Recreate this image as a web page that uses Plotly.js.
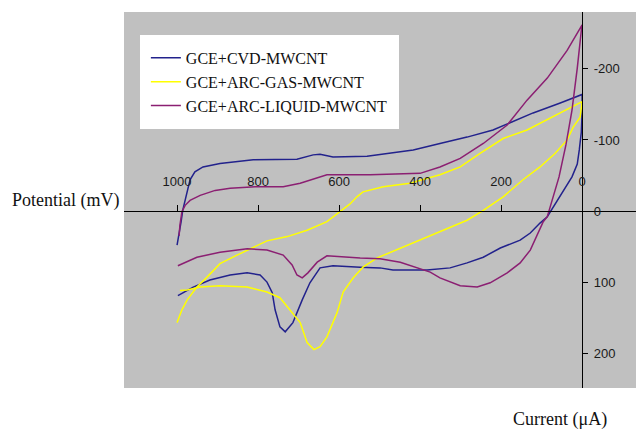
<!DOCTYPE html>
<html>
<head>
<meta charset="utf-8">
<script src="https://cdn.plot.ly/plotly-3.0.1.min.js"></script>
<style>html,body{margin:0;padding:0;background:#fff;}#chart{width:636px;height:430px;}</style>
</head>
<body>
<div id="chart"></div>
<script>
// Series names
const seriesNames = ["GCE+CVD-MWCNT", "GCE+ARC-GAS-MWCNT", "GCE+ARC-LIQUID-MWCNT"];

// GCE+CVD-MWCNT (blue)
const cvdX = [1000,995,990,986,978,968,956,936,894,844,812,704,664,647,615,531,481,417,351,284,220,178,121,54,0,
  0,2,7,12,25,42,62,72,86,104,128,153,202,244,284,326,383,467,499,548,615,647,672,691,714,733,746,758,765,778,795,827,869,919,960,998];
const cvdY = [48,34,15,-1,-22,-44,-55,-62,-67,-70,-72,-73,-79,-80,-76,-77,-81,-86,-95,-104,-114,-124,-138,-152,-164,
  -139,-111,-86,-66,-48,-32,-15,-4,8,17,31,41,52,65,73,80,83,83,80,79,77,80,101,125,157,170,163,139,115,100,90,87,90,97,107,119];

// GCE+ARC-GAS-MWCNT (yellow)
const gasX = [1000,988,975,951,926,894,852,812,778,728,679,630,598,573,556,541,491,425,351,301,252,195,136,79,30,0,
  5,22,37,67,104,146,195,244,284,343,400,457,506,541,565,590,605,630,647,662,679,696,721,746,778,827,894,943,975,993];
const gasY = [157,139,125,107,93,74,62,51,42,36,27,15,1,-10,-20,-27,-34,-39,-51,-62,-81,-102,-114,-131,-146,-154,
  -132,-118,-100,-81,-62,-44,-20,-1,13,27,41,55,66,79,94,114,143,177,191,195,185,157,139,122,114,107,105,107,111,112];

// GCE+ARC-LIQUID-MWCNT (purple)
const liqX = [995,993,988,980,968,943,906,869,807,738,696,659,630,523,449,400,351,301,244,185,136,86,37,0,
  2,12,25,40,57,77,86,96,111,128,153,185,227,259,301,351,375,449,499,548,630,654,677,691,704,716,738,778,827,894,951,998];
const liqY = [35,20,1,-8,-15,-22,-29,-32,-34,-34,-39,-46,-51,-51,-52,-53,-62,-74,-95,-121,-156,-187,-226,-262,
  -254,-201,-142,-93,-48,-8,8,15,35,55,73,87,101,107,105,94,86,72,67,66,63,72,87,94,90,76,62,55,53,58,65,77];

// Axis ticks
const xTickVals = [1000, 800, 600, 400, 200, 0];
const xTickText = ["1000", "800", "600", "400", "200", "0"];
const yTickVals = [-200, -100, 0, 100, 200];
const yTickText = ["-200", "-100", "0", "100", "200"];

const xRange = [1131, -133];
const yRange = [249, -280];

const colors = ["#22228c", "#ffff00", "#8b1f72"];

const traces = [
  {x: cvdX, y: cvdY, name: seriesNames[0], line: {color: colors[0], width: 1.5}},
  {x: gasX, y: gasY, name: seriesNames[1], line: {color: colors[1], width: 1.5}},
  {x: liqX, y: liqY, name: seriesNames[2], line: {color: colors[2], width: 1.5}}
].map(t => Object.assign({type: "scatter", mode: "lines", hoverinfo: "skip"}, t));

// position of axis crossings in normalized plot coordinates
const xCross = (yRange[0] - 0) / (yRange[0] - yRange[1]);
const yCross = (xRange[0] - 0) / (xRange[0] - xRange[1]);

const tickFont = {family: "Liberation Sans, Arial, sans-serif", size: 13, color: "#1a1a1a"};
const serif = "Liberation Serif, Times New Roman, serif";

const layout = {
  width: 636, height: 430,
  margin: {l: 124, r: 0, t: 12, b: 42, pad: 0},
  paper_bgcolor: "#ffffff",
  plot_bgcolor: "#c0c0c0",
  showlegend: true,
  legend: {
    x: 0.031, y: 0.939, xanchor: "left", yanchor: "top",
    bgcolor: "#ffffff", bordercolor: "#ffffff", borderwidth: 6,
    font: {family: serif, size: 16, color: "#111"}
  },
  xaxis: {
    range: xRange, anchor: "free", position: xCross, side: "top",
    showline: true, linecolor: "#000", linewidth: 1,
    ticks: "outside", ticklen: 6, tickcolor: "#000", tickwidth: 1,
    tickvals: xTickVals, ticktext: xTickText, ticklabelstandoff: 14,
    showgrid: false, zeroline: false, tickfont: tickFont, fixedrange: true
  },
  yaxis: {
    range: yRange, anchor: "free", position: yCross, side: "right",
    showline: true, linecolor: "#000", linewidth: 1,
    ticks: "outside", ticklen: 5, tickcolor: "#000", tickwidth: 1,
    tickvals: yTickVals, ticktext: yTickText, ticklabelstandoff: 3,
    showgrid: false, zeroline: false, tickfont: tickFont, fixedrange: true
  },
  annotations: [
    {text: "Potential (mV)", xref: "paper", yref: "paper", x: -0.115, y: 0.5,
     xanchor: "center", yanchor: "middle", showarrow: false,
     font: {family: serif, size: 18, color: "#111"}},
    {text: "Current (μA)", xref: "paper", yref: "paper", x: 0.8516, y: -0.085,
     xanchor: "center", yanchor: "middle", showarrow: false,
     font: {family: serif, size: 18, color: "#111"}}
  ]
};

Plotly.newPlot("chart", traces, layout, {displayModeBar: false, staticPlot: true});
</script>
</body>
</html>
